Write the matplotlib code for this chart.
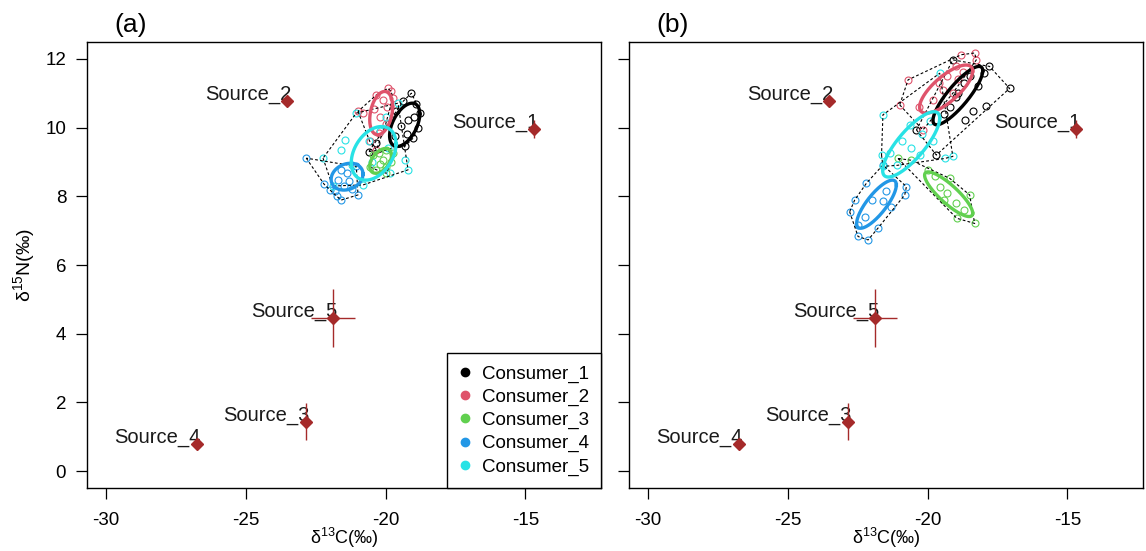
import numpy as np
import matplotlib
matplotlib.use("Agg")
import matplotlib.pyplot as plt
from matplotlib.lines import Line2D

plt.rcParams['font.family'] = ['Liberation Sans', 'DejaVu Sans']
plt.rcParams['mathtext.default'] = 'regular'
plt.rcParams['axes.unicode_minus'] = False

# food sources: mean and sd of d13C / d15N
src_names = ['Source_1', 'Source_2', 'Source_3', 'Source_4', 'Source_5']
src_x = [-14.68, -23.52, -22.86, -26.76, -21.88]
src_y = [9.96, 10.76, 1.44, 0.78, 4.45]
src_xsd = [0.10, 0.10, 0.08, 0.10, 0.80]
src_ysd = [0.25, 0.08, 0.53, 0.08, 0.85]

consumers = ['Consumer_1', 'Consumer_2', 'Consumer_3', 'Consumer_4', 'Consumer_5']
colors = ['#000000', '#DF536B', '#61D04F', '#2297E6', '#28E2E5']

# consumer samples, panel (a)
a_c1 = [(-19.08, 11.0), (-18.79, 10.42), (-18.85, 9.98), (-19.02, 9.69), (-19.32, 9.45),
        (-19.68, 9.74), (-19.62, 10.47), (-19.38, 10.76), (-19.2, 10.22), (-19.0, 10.3),
        (-19.45, 10.05), (-19.25, 9.8), (-20.6, 9.3), (-20.35, 9.55), (-18.9, 10.7)]
a_c2 = [(-19.92, 11.14), (-19.8, 11.05), (-20.33, 10.95), (-20.81, 10.42), (-20.99, 10.47),
        (-20.57, 9.6), (-20.33, 9.35), (-20.1, 10.8), (-20.2, 10.3), (-19.95, 10.6),
        (-20.0, 10.1), (-20.4, 10.55), (-19.75, 10.85), (-20.25, 9.85)]
a_c3 = [(-19.98, 9.35), (-20.33, 8.77), (-19.98, 8.67), (-20.45, 9.2), (-20.1, 9.05),
        (-19.8, 9.0), (-20.25, 9.25), (-20.55, 8.85), (-20.0, 8.85), (-20.2, 8.95), (-19.75, 9.25)]
a_c4 = [(-22.84, 9.11), (-22.0, 8.19), (-21.59, 7.89), (-20.99, 8.04), (-21.4, 8.67),
        (-21.59, 8.77), (-21.7, 8.48), (-21.82, 8.14), (-21.05, 8.87), (-21.3, 8.45),
        (-21.5, 8.3), (-21.2, 8.2), (-22.2, 8.35), (-21.75, 8.0)]
a_c5 = [(-21.59, 9.35), (-21.46, 9.64), (-21.05, 10.42), (-19.56, 10.71), (-19.2, 8.77),
        (-19.32, 9.06), (-19.86, 8.67), (-20.81, 8.33), (-20.6, 9.6), (-20.2, 9.9),
        (-19.9, 9.4), (-20.5, 9.0), (-21.2, 8.9), (-20.0, 10.3), (-22.24, 9.11), (-21.9, 8.3)]

# consumer samples, panel (b)
b_c1 = [(-17.79, 11.78), (-17.07, 11.14), (-17.9, 10.62), (-18.38, 10.47), (-18.68, 10.22),
        (-19.1, 11.97), (-20.4, 9.93), (-19.69, 9.2), (-18.5, 11.5), (-18.9, 11.0),
        (-19.2, 10.6), (-18.2, 11.2), (-18.7, 11.3), (-19.4, 10.4), (-18.0, 11.6), (-19.0, 10.9)]
b_c2 = [(-18.8, 12.12), (-18.32, 12.17), (-18.26, 11.97), (-20.7, 11.39), (-21.0, 10.66),
        (-20.17, 9.93), (-18.9, 11.4), (-19.45, 11.1), (-18.74, 11.63), (-19.3, 11.5),
        (-19.8, 10.8), (-19.1, 11.0), (-19.6, 11.3), (-20.3, 10.6), (-19.0, 11.8)]
b_c3 = [(-19.99, 8.77), (-19.21, 8.52), (-18.5, 8.04), (-18.32, 7.21), (-18.96, 7.36),
        (-19.57, 8.28), (-19.3, 8.1), (-19.0, 7.8), (-18.7, 7.6), (-19.4, 7.9),
        (-21.06, 9.1), (-20.6, 9.05), (-19.75, 8.6)]
b_c4 = [(-22.19, 8.38), (-22.61, 7.89), (-22.79, 7.55), (-22.49, 7.17), (-22.49, 6.83),
        (-22.13, 6.73), (-21.78, 7.07), (-20.82, 8.04), (-20.76, 8.28), (-21.6, 8.91),
        (-21.48, 8.14), (-22.0, 7.89), (-21.6, 7.85), (-22.25, 7.41), (-21.3, 7.7)]
b_c5 = [(-21.6, 10.37), (-19.57, 11.58), (-21.65, 9.2), (-19.1, 9.16), (-19.39, 9.1),
        (-20.64, 10.08), (-21.6, 8.87), (-21.36, 9.25), (-20.29, 9.2), (-20.9, 9.6),
        (-20.2, 9.8), (-20.6, 9.4), (-19.9, 10.2), (-21.1, 8.9), (-19.8, 9.6)]

# standard ellipses: centre x, centre y, sd x, sd y, correlation
a_ell = [(-19.32, 10.08, 0.54, 0.63, 0.5),
         (-20.16, 10.42, 0.41, 0.63, 0.3),
         (-20.18, 9.03, 0.39, 0.36, 0.45),
         (-21.38, 8.57, 0.57, 0.39, 0.2),
         (-20.43, 9.25, 0.80, 0.78, 0.35)]
b_ell = [(-18.92, 10.93, 0.89, 0.85, 0.85),
         (-19.34, 11.12, 0.95, 0.70, 0.75),
         (-19.25, 8.06, 0.86, 0.65, -0.85),
         (-21.83, 7.77, 0.71, 0.70, 0.8),
         (-20.59, 9.51, 1.02, 0.95, 0.8)]


def convex_hull(pts):
    pts = sorted(set(pts))

    def cross(o, a, b):
        return (a[0] - o[0]) * (b[1] - o[1]) - (a[1] - o[1]) * (b[0] - o[0])

    lower = []
    for p in pts:
        while len(lower) >= 2 and cross(lower[-2], lower[-1], p) <= 0:
            lower.pop()
        lower.append(p)
    upper = []
    for p in reversed(pts):
        while len(upper) >= 2 and cross(upper[-2], upper[-1], p) <= 0:
            upper.pop()
        upper.append(p)
    hull = lower[:-1] + upper[:-1]
    return np.array(hull + [hull[0]])


def ellipse_xy(cx, cy, sx, sy, rho, n=200):
    t = np.linspace(0, 2 * np.pi, n)
    x = cx + sx * np.cos(t)
    y = cy + sy * (rho * np.cos(t) + np.sqrt(1 - rho ** 2) * np.sin(t))
    return x, y


def draw_panel(ax, groups, ellipses, tag, show_ylab):
    for pts, col, ell in zip(groups, colors, ellipses):
        arr = np.array(pts)
        ax.plot(arr[:, 0], arr[:, 1], 'o', mfc='none', mec=col, ms=5, mew=0.8, zorder=2)
        hull = convex_hull(pts)
        ax.plot(hull[:, 0], hull[:, 1], color='black', ls=(0, (2.5, 2)), lw=0.8, zorder=3)
        ex, ey = ellipse_xy(*ell)
        ax.plot(ex, ey, color=col, lw=2.4, zorder=4)

    ax.errorbar(src_x, src_y, xerr=src_xsd, yerr=src_ysd, fmt='D', color='#A52A2A',
                ms=6, elinewidth=1, capsize=0, zorder=5)
    for name, x, y in zip(src_names, src_x, src_y):
        ax.annotate(name, (x, y), xytext=(3, 1), textcoords='offset points',
                    ha='right', va='baseline', fontsize=14.5, color='#1a1a1a')

    ax.set_xlim(-30.68, -12.3)
    ax.set_ylim(-0.49, 12.49)
    ax.set_xticks([-30, -25, -20, -15])
    ax.set_yticks([0, 2, 4, 6, 8, 10, 12])
    ax.tick_params(direction='out', length=8, width=0.9, labelsize=13.5)
    ax.tick_params(axis='x', pad=9)
    ax.tick_params(axis='y', pad=7)
    if not show_ylab:
        ax.set_yticklabels([])
    for s in ax.spines.values():
        s.set_linewidth(1.0)
    ax.text(0.085, 1.012, tag, transform=ax.transAxes, ha='center', va='bottom', fontsize=19)
    ax.text(0.5, -0.113, 'δ$^{13}$C(‰)', transform=ax.transAxes, ha='center', va='center',
            fontsize=13)


fig = plt.figure(figsize=(11.46, 5.51), dpi=100)
ax_a = fig.add_axes([87 / 1146, 63 / 551, 514 / 1146, 446 / 551])
ax_b = fig.add_axes([629 / 1146, 63 / 551, 514 / 1146, 446 / 551])

draw_panel(ax_a, [a_c1, a_c2, a_c3, a_c4, a_c5], a_ell, '(a)', True)
draw_panel(ax_b, [b_c1, b_c2, b_c3, b_c4, b_c5], b_ell, '(b)', False)

ax_a.set_ylabel('δ$^{15}$N(‰)', fontsize=14, labelpad=6)

handles = [Line2D([], [], ls='none', marker='o', color=c, ms=6) for c in colors]
leg = ax_a.legend(handles, consumers, loc='lower right', borderaxespad=0, fontsize=13.5,
                  fancybox=False, framealpha=1, edgecolor='black', handlelength=0.6,
                  handletextpad=0.6, labelspacing=0.32, borderpad=0.65)
leg.get_frame().set_linewidth(1.0)

fig.savefig('out.png', dpi=100)
